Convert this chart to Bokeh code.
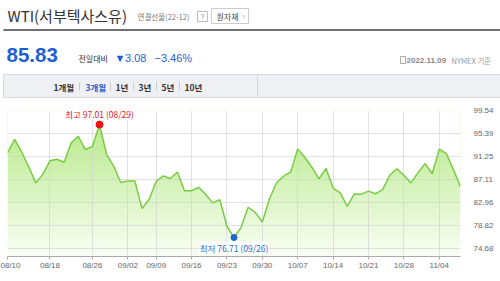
import numpy as np
from bokeh.plotting import figure
from bokeh.models import Range1d, FixedTicker, Label, PrintfTickFormatter
from bokeh.embed import file_html
from bokeh.resources import INLINE
from bokeh.core.properties import value

# ---------------- data ----------------
dates = ["08/10", "08/11", "08/12", "08/15", "08/16", "08/17", "08/18", "08/19",
         "08/22", "08/23", "08/24", "08/25", "08/26", "08/29", "08/30", "08/31",
         "09/01", "09/02", "09/06", "09/07", "09/08", "09/09", "09/12", "09/13",
         "09/14", "09/15", "09/16", "09/19", "09/20", "09/21", "09/22", "09/23",
         "09/26", "09/27", "09/28", "09/29", "09/30", "10/03", "10/04", "10/05",
         "10/06", "10/07", "10/10", "10/11", "10/12", "10/13", "10/14", "10/17",
         "10/18", "10/19", "10/20", "10/21", "10/24", "10/25", "10/26", "10/27",
         "10/28", "10/31", "11/01", "11/02", "11/03", "11/04", "11/07", "11/08",
         "11/09"]
prices = [91.93, 94.34, 92.09, 89.41, 86.53, 88.11, 90.50, 90.77,
          90.23, 93.74, 94.89, 92.52, 93.06, 97.01, 91.64, 89.55,
          86.61, 86.87, 86.88, 81.94, 83.54, 86.79, 87.78, 87.31,
          88.48, 85.10, 85.11, 85.73, 84.45, 82.94, 83.49, 78.74,
          76.71, 78.50, 82.15, 81.23, 79.49, 83.63, 86.52, 87.76,
          88.45, 92.64, 91.13, 89.35, 87.27, 89.11, 85.61, 84.75,
          82.30, 84.55, 84.51, 85.05, 84.58, 85.32, 87.91, 89.08,
          87.90, 86.53, 88.37, 90.00, 88.17, 92.61, 91.79, 88.91,
          85.83]
x_tick_labels = ["08/10", "08/18", "08/26", "09/02", "09/09", "09/16", "09/23",
                 "09/30", "10/07", "10/14", "10/21", "10/28", "11/04"]
y_tick_values = [74.68, 78.82, 82.96, 87.11, 91.25, 95.39, 99.54]
y_floor = 73.30

title_text = "WTI(서부텍사스유)"
subtitle_text = "연결선물(22-12)"
button_text = "원자재"
asof_date = "2022.11.09"
asof_rest = "NYMEX 기준"
tabs = ["1개월", "3개월", "1년", "3년", "5년", "10년"]
selected_tab = "3개월"

KR = "Noto Sans CJK KR"
LAT = "Liberation Sans, DejaVu Sans"
BLUE = "#1f5fd1"

# ---------------- header ----------------
h = figure(width=500, height=100, x_range=Range1d(0, 500), y_range=Range1d(100, 0),
           toolbar_location=None, output_backend="svg", min_border=0,
           x_axis_type=None, y_axis_type=None)
h.grid.visible = False
h.outline_line_color = None

h.text(x=[7], y=[14.5], text=[title_text], text_font=value(KR), text_font_size="15px",
       text_color="#333333", text_baseline="middle", text_align="left")
h.text(x=[137], y=[16], text=[subtitle_text], text_font=value(KR), text_font_size="7.5px",
       text_color="#777777", text_baseline="middle", text_align="left")
h.quad(left=[197], right=[207], top=[11], bottom=[21], fill_color="white", line_color="#bbbbbb")
h.text(x=[202], y=[16], text=["?"], text_font=value(LAT), text_font_size="7px",
       text_color="#888888", text_baseline="middle", text_align="center")
h.quad(left=[211], right=[248], top=[8], bottom=[23], fill_color="white", line_color="#cccccc")
h.text(x=[216], y=[16], text=[button_text], text_font=value(KR), text_font_size="8px",
       text_color="#444444", text_baseline="middle", text_align="left")
h.text(x=[243], y=[16], text=["›"], text_font=value(LAT), text_font_size="8px",
       text_color="#999999", text_baseline="middle", text_align="center")
h.segment(x0=[3], y0=[29.5], x1=[500], y1=[29.5], line_width=2, line_color="#707070")

last = prices[-1]
chg = prices[-1] - prices[-2]
pct = chg / prices[-2] * 100
arrow = "▼" if chg < 0 else "▲"
h.text(x=[6], y=[54.5], text=[f"{last:.2f}"], text_font=value(LAT), text_font_size="20.5px",
       text_font_style="bold", text_color=BLUE, text_baseline="middle", text_align="left")
h.text(x=[78], y=[57.5], text=["전일대비"], text_font=value(KR), text_font_size="8px",
       text_color="#333333", text_baseline="middle", text_align="left")
h.text(x=[114], y=[57.5], text=[arrow], text_font=value(LAT),
       text_font_size="11px", text_color=BLUE, text_baseline="middle", text_align="left")
h.text(x=[124.5], y=[57.5], text=[f"{abs(chg):.2f}"], text_font=value(LAT),
       text_font_size="11px", text_color=BLUE, text_baseline="middle", text_align="left")
h.text(x=[154], y=[57.5], text=[f"−{abs(pct):.2f}%"], text_font=value(LAT),
       text_font_size="11px", text_color=BLUE, text_baseline="middle", text_align="left")

h.quad(left=[400], right=[405], top=[56], bottom=[63], fill_color="white", line_color="#aaaaaa")
h.text(x=[406], y=[60], text=[asof_date], text_font=value(LAT), text_font_size="8px",
       text_font_style="bold", text_color="#888888", text_baseline="middle", text_align="left")
h.text(x=[451], y=[60], text=[asof_rest], text_font=value(KR), text_font_size="7.5px",
       text_color="#999999", text_baseline="middle", text_align="left")

h.quad(left=[3], right=[501], top=[74], bottom=[97], fill_color="#eef0f3", line_color="#d5d8dd")
h.segment(x0=[257], y0=[74], x1=[257], y1=[97], line_color="#d5d8dd")
tab_x = [53, 85, 115, 138, 161, 184]
sep_x = [79, 110, 133, 156, 179]
h.text(x=tab_x, y=[86] * len(tabs), text=tabs, text_font=value(KR), text_font_size="8.5px",
       text_font_style="bold",
       text_color=[BLUE if t == selected_tab else "#333333" for t in tabs],
       text_baseline="middle", text_align="left")
h.segment(x0=sep_x, y0=[82] * 5, x1=sep_x, y1=[90] * 5, line_color="#c9c9c9")

# ---------------- chart ----------------
idx = list(range(len(dates)))
n = len(dates)
top = y_tick_values[-1]
p = figure(width=500, height=181, x_range=Range1d(0, n - 1), y_range=Range1d(y_floor, top),
           toolbar_location=None, output_backend="svg", y_axis_location="right",
           min_border_left=7, min_border_right=40, min_border_top=10, min_border_bottom=25)
p.outline_line_color = None

# vertical gradient fill under the line
rows = 146
t = np.linspace(0.0, 1.0, rows)[:, None]
c_bot = np.array([250, 254, 245])
c_top = np.array([178, 233, 128])
img = np.zeros((rows, 1), dtype=np.uint32)
view = img.view(dtype=np.uint8).reshape((rows, 1, 4))
for k in range(3):
    view[:, :, k] = (c_bot[k] + (c_top[k] - c_bot[k]) * t).astype(np.uint8)
view[:, :, 3] = 255
p.image_rgba(image=[img], x=0, y=y_floor, dw=n - 1, dh=top - y_floor, level="image")
p.varea(x=idx, y1=prices, y2=[top + 5] * n, fill_color="white", level="image")

x_ticks = [dates.index(d) for d in x_tick_labels]
p.xaxis.ticker = FixedTicker(ticks=x_ticks)
p.xaxis.major_label_overrides = {i: d for i, d in zip(x_ticks, x_tick_labels)}
p.xaxis.major_label_text_align = "left"
p.xaxis.major_label_text_font = LAT
p.xaxis.major_label_text_font_size = "8px"
p.xaxis.major_label_text_color = "#666666"
p.xaxis.axis_line_color = "#aaaaaa"
p.xaxis.major_tick_line_color = "#aaaaaa"
p.xaxis.major_tick_out = 3
p.xaxis.major_tick_in = 0
p.xaxis.minor_tick_line_color = None
p.xaxis.major_label_standoff = 1

p.yaxis.ticker = FixedTicker(ticks=y_tick_values)
p.yaxis.formatter = PrintfTickFormatter(format="%.2f")
p.yaxis.major_label_text_font = LAT
p.yaxis.major_label_text_font_size = "8px"
p.yaxis.major_label_text_color = "#666666"
p.yaxis.axis_line_color = None
p.yaxis.major_tick_line_color = None
p.yaxis.minor_tick_line_color = None
p.yaxis.major_label_standoff = 7

p.xgrid.ticker = FixedTicker(ticks=x_ticks)
p.ygrid.ticker = FixedTicker(ticks=y_tick_values)
p.grid.grid_line_color = "#cfcfcf"
p.grid.grid_line_alpha = 0.6

p.line(idx, prices, line_color="#79cc43", line_width=1.5)

imax = int(np.argmax(prices))
imin = int(np.argmin(prices))
p.scatter([imax], [prices[imax]], size=7, color="#ee1111")
p.scatter([imin], [prices[imin]], size=6, color="#1f66d1")
p.add_layout(Label(x=imax, y=prices[imax], text=f"최고 {prices[imax]:.2f} ({dates[imax]})",
                   text_align="center", text_baseline="bottom", y_offset=5,
                   text_font=KR, text_font_size="8.5px", text_color="#e02020",
                   background_fill_color="white"))
p.add_layout(Label(x=imin, y=prices[imin], text=f"최저 {prices[imin]:.2f} ({dates[imin]})",
                   text_align="center", text_baseline="top", y_offset=-4,
                   text_font=KR, text_font_size="8.5px", text_color="#2a6cc8",
                   background_fill_color="white"))

open("out.html", "w").write(file_html([h, p], INLINE))
